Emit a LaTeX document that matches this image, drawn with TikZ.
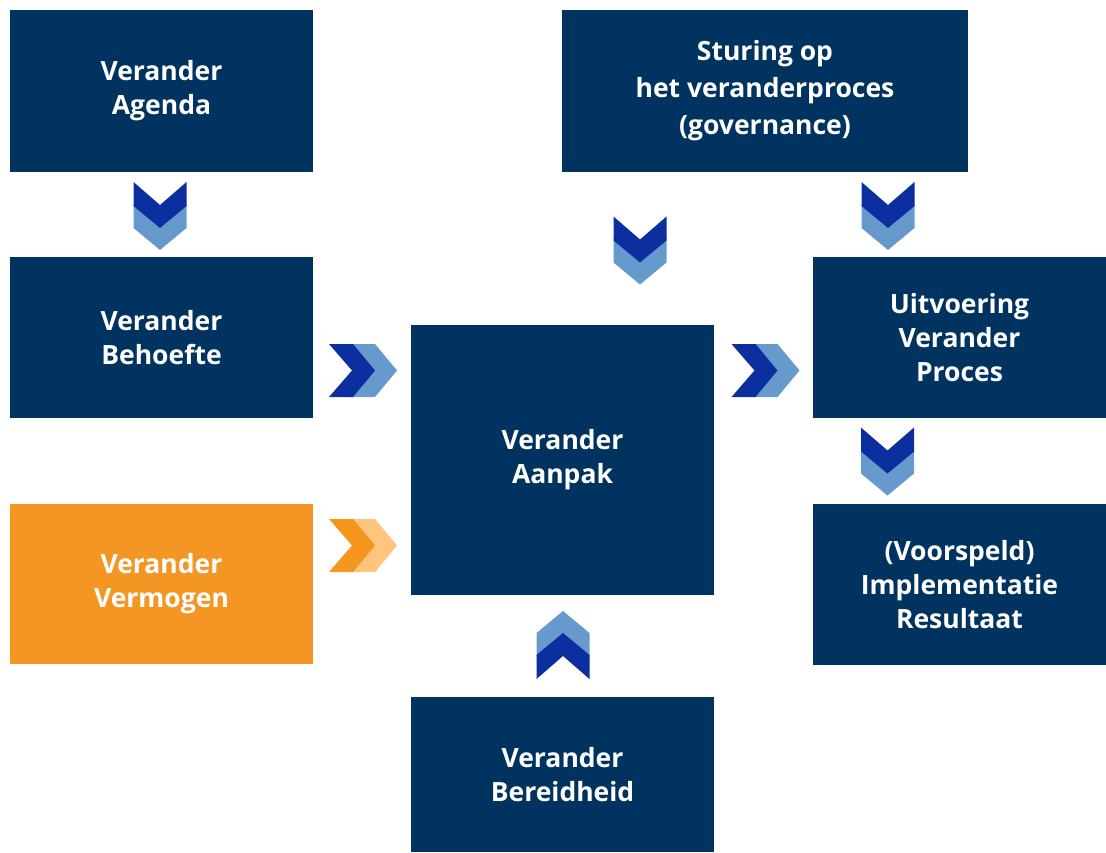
\documentclass[tikz,border=0pt]{standalone}
\usepackage{fontspec}
\setmainfont{Open Sans}
\usepackage{tikz}

\definecolor{boxblue}{HTML}{00335F}
\definecolor{boxorange}{HTML}{F39623}
\definecolor{chevdark}{HTML}{0B2F9E}
\definecolor{chevlight}{HTML}{6699CC}
\definecolor{chevorange}{HTML}{F5961E}
\definecolor{chevpeach}{HTML}{FFC57F}

% chevron: position, angle, front colour, back colour
\newcommand{\chev}[4]{%
  \begin{scope}[shift={#1}, rotate=#2]
    \fill[#4] (-11,-26.5) -- (13,-26.5) -- (35,0) -- (13,26.5) -- (-11,26.5) -- (12,0) -- cycle;
    \fill[#3] (-33,-26.5) -- (-9,-26.5) -- (13,0) -- (-9,26.5) -- (-33,26.5) -- (-10,0) -- cycle;
  \end{scope}}

\begin{document}
\begin{tikzpicture}[x=1pt, y=-1pt,
    box/.style={rectangle, fill=boxblue, text=white, align=center, inner sep=0pt,
      font=\fontsize{26.5}{34}\selectfont\bfseries}]
        \useasboundingbox (0,0) rectangle (1106,852);

        % Left column
        \node[box, minimum width=303, minimum height=162] (agenda) at (161.5,91) {Verander\\Agenda};
        \node[box, minimum width=303, minimum height=161] (behoefte) at (161.5,337.5) {Verander\\Behoefte};
        \node[box, fill=boxorange, minimum width=303, minimum height=160] (vermogen) at (161.5,584) {Verander\\Vermogen};

        % Middle column
        \node[box, minimum width=303, minimum height=270] (aanpak) at (562.5,460) {Verander\\Aanpak};
        \node[box, minimum width=303, minimum height=155] (bereidheid) at (562.5,774.5) {Verander\\Bereidheid};

        % Right column
        \node[box, minimum width=406, minimum height=162, font=\fontsize{26.5}{37}\selectfont\bfseries] (sturing) at (765,91) {Sturing op\\het veranderproces\\(governance)};
        \node[box, minimum width=293, minimum height=161] (uitvoering) at (959.5,337.5) {Uitvoering\\Verander\\Proces};
        \node[box, minimum width=293, minimum height=161] (resultaat) at (959.5,584.5) {(Voorspeld)\\Implementatie\\Resultaat};

        % Chevrons
        \chev{(160,215)}{-90}{chevdark}{chevlight}
        \chev{(888,215)}{-90}{chevdark}{chevlight}
        \chev{(640,249.5)}{-90}{chevdark}{chevlight}
        \chev{(887.5,460.5)}{-90}{chevdark}{chevlight}
        \chev{(362,370.5)}{0}{chevdark}{chevlight}
        \chev{(764.5,370.5)}{0}{chevdark}{chevlight}
        \chev{(362,545.5)}{0}{chevorange}{chevpeach}
        \chev{(563,646)}{90}{chevdark}{chevlight}
    \end{tikzpicture}
\end{document}
